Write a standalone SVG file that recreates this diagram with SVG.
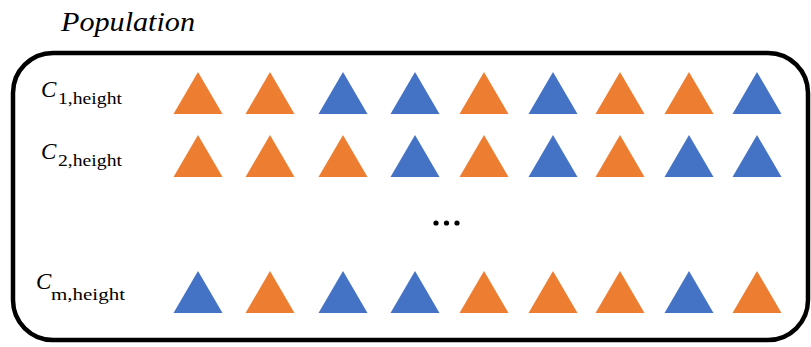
<svg xmlns="http://www.w3.org/2000/svg" width="811" height="347" viewBox="0 0 811 347">
<defs>
<style>
.o{fill:#ED7D31}
.b{fill:#4472C4}
text{font-family:'Liberation Serif','DejaVu Serif',serif;fill:#000}
.c{font-style:italic;font-size:23px}
.s{font-size:17px}
</style>
<path id="t" d="M-24.5,21 L0,-21 L24.5,21 Z"/>
</defs>
<rect width="811" height="347" fill="#fff"/>
<text x="61" y="31" font-family="Liberation Serif, serif" font-size="28" font-style="italic" textLength="134" lengthAdjust="spacingAndGlyphs">Population</text>
<g id="frame"><rect x="13" y="53" width="795" height="287" rx="40" ry="40" fill="none" stroke="#000" stroke-width="4.5"/></g>
<g id="label1"><text class="c" x="41" y="97" font-family="Liberation Serif, serif">C</text><text class="s" x="58" y="104" font-family="Liberation Serif, serif" textLength="64" lengthAdjust="spacingAndGlyphs">1,height</text></g>
<g id="label2"><text class="c" x="41" y="159" font-family="Liberation Serif, serif">C</text><text class="s" x="58" y="166" font-family="Liberation Serif, serif" textLength="64" lengthAdjust="spacingAndGlyphs">2,height</text></g>
<g id="labelm"><text class="c" x="36" y="289" font-family="Liberation Serif, serif">C</text><text class="s" x="51" y="300" font-family="Liberation Serif, serif" textLength="74" lengthAdjust="spacingAndGlyphs">m,height</text></g>
<g id="row1">
<use href="#t" class="o" x="198" y="93"/><use href="#t" class="o" x="270" y="93"/><use href="#t" class="b" x="343" y="93"/><use href="#t" class="b" x="415" y="93"/><use href="#t" class="o" x="484" y="93"/><use href="#t" class="b" x="553" y="93"/><use href="#t" class="o" x="620" y="93"/><use href="#t" class="o" x="689" y="93"/><use href="#t" class="b" x="757" y="93"/>
</g>
<g id="row2">
<use href="#t" class="o" x="198" y="156"/><use href="#t" class="o" x="270" y="156"/><use href="#t" class="o" x="343" y="156"/><use href="#t" class="b" x="415" y="156"/><use href="#t" class="o" x="484" y="156"/><use href="#t" class="b" x="553" y="156"/><use href="#t" class="o" x="620" y="156"/><use href="#t" class="b" x="689" y="156"/><use href="#t" class="b" x="757" y="156"/>
</g>
<g id="rowm">
<use href="#t" class="b" x="198" y="292"/><use href="#t" class="o" x="270" y="292"/><use href="#t" class="b" x="343" y="292"/><use href="#t" class="b" x="415" y="292"/><use href="#t" class="o" x="484" y="292"/><use href="#t" class="o" x="553" y="292"/><use href="#t" class="o" x="620" y="292"/><use href="#t" class="b" x="689" y="292"/><use href="#t" class="o" x="757" y="292"/>
</g>
<g id="ellipsis" fill="#000"><circle cx="436" cy="223" r="2.6"/><circle cx="446.5" cy="223" r="2.6"/><circle cx="457" cy="223" r="2.6"/></g>
<g id="connectors"/>
</svg>
